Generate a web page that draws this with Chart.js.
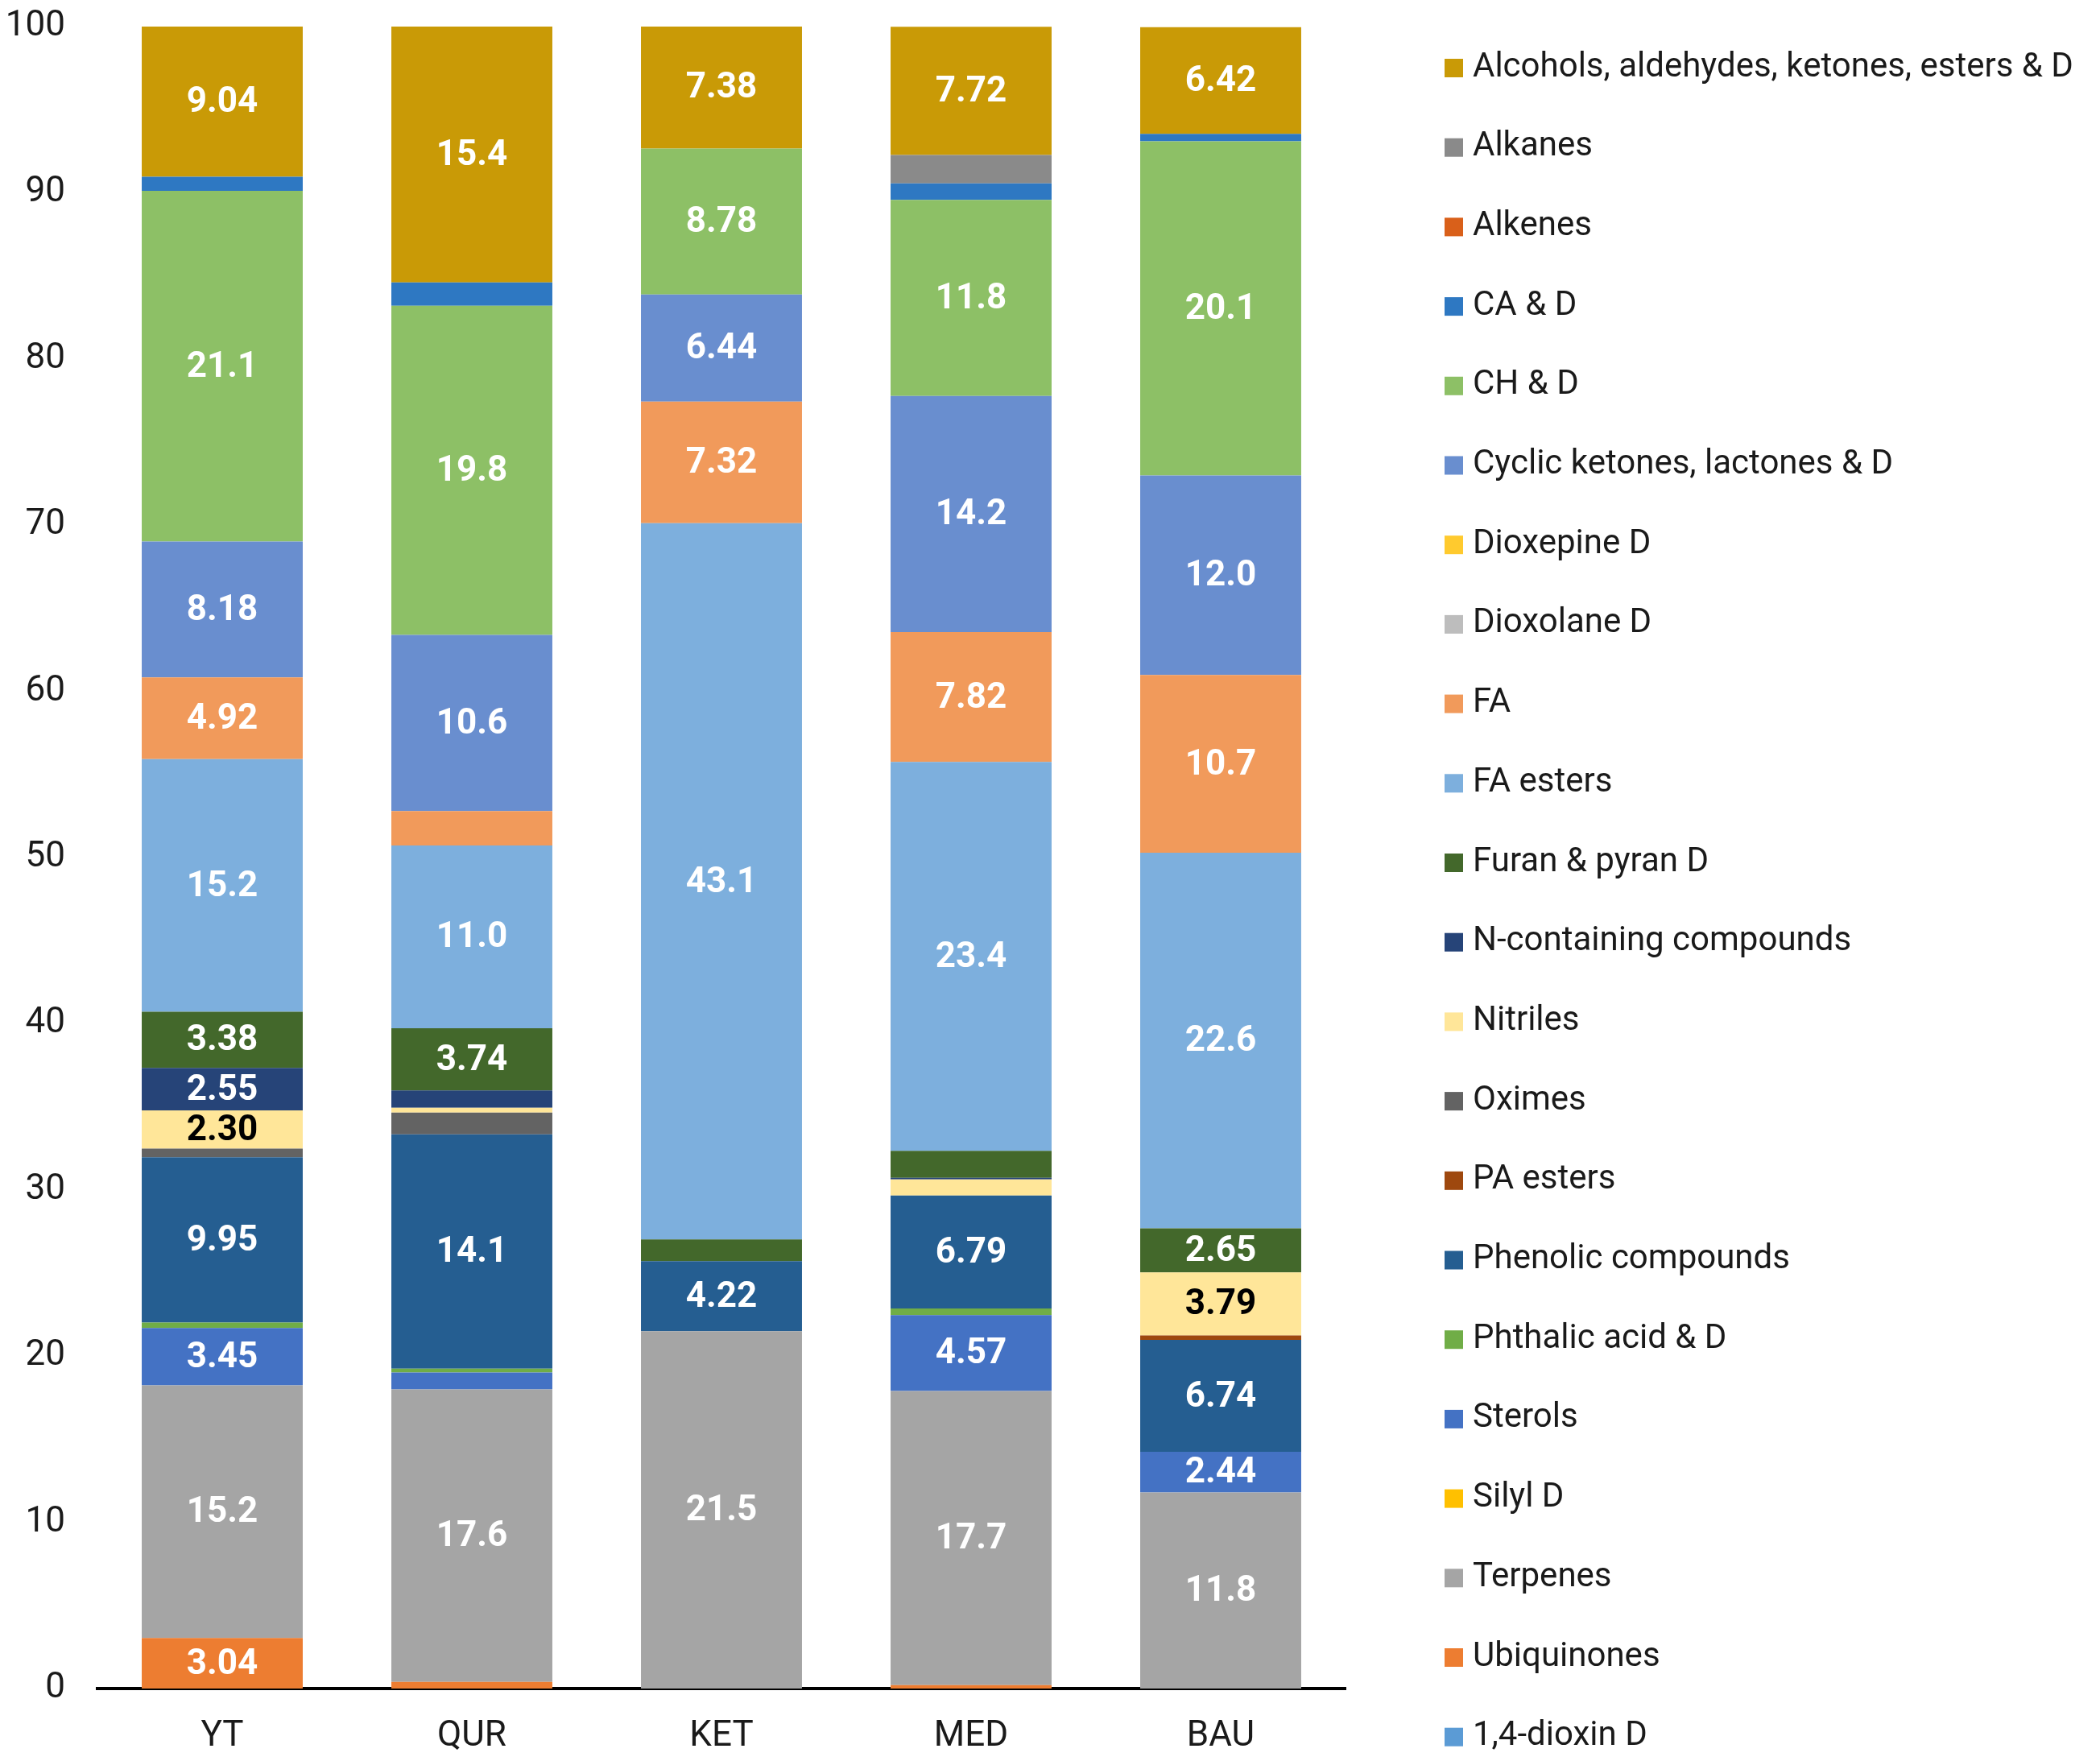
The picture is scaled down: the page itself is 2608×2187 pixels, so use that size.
<!DOCTYPE html>
<html>
<head>
<meta charset="utf-8">
<script src="https://cdn.jsdelivr.net/npm/chart.js@4.4.1/dist/chart.umd.min.js"></script>
<style>
  html, body { margin: 0; padding: 0; background: #fff; }
  #wrap { width: 2608px; height: 2187px; position: relative; }
</style>
</head>
<body>
<div id="wrap"><canvas id="myChart"></canvas></div>
<script>
// categories (x axis)
var sites = ['YT', 'QUR', 'KET', 'MED', 'BAU'];

// series values per site, listed bottom of stack first
var dioxin14     = [0, 0, 0, 0, 0];
var ubiquinones  = [3.04, 0.4, 0, 0.2, 0];
var terpenes     = [15.2, 17.6, 21.5, 17.7, 11.8];
var silyl        = [0, 0, 0, 0, 0];
var sterols      = [3.45, 1.02, 0, 4.57, 2.44];
var phthalic     = [0.33, 0.23, 0, 0.4, 0];
var phenolic     = [9.95, 14.1, 4.22, 6.79, 6.74];
var paEsters     = [0, 0, 0, 0, 0.27];
var oximes       = [0.52, 1.3, 0, 0, 0];
var nitriles     = [2.30, 0.3, 0, 0.97, 3.79];
var nContaining  = [2.55, 1.04, 0, 0.1, 0];
var furanPyran   = [3.38, 3.74, 1.3, 1.62, 2.65];
var faEsters     = [15.2, 11.0, 43.1, 23.4, 22.6];
var fa           = [4.92, 2.07, 7.32, 7.82, 10.7];
var dioxolane    = [0, 0, 0, 0, 0];
var dioxepine    = [0, 0, 0, 0, 0];
var cyclicKet    = [8.18, 10.6, 6.44, 14.2, 12.0];
var chD          = [21.1, 19.8, 8.78, 11.8, 20.1];
var caD          = [0.85, 1.4, 0, 1.0, 0.45];
var alkenes      = [0, 0, 0, 0, 0];
var alkanes      = [0, 0, 0, 1.7, 0];
var alcohols     = [9.04, 15.4, 7.38, 7.72, 6.42];

var yTicks = [0, 10, 20, 30, 40, 50, 60, 70, 80, 90, 100];

var series = [
    ['1,4-dioxin D', dioxin14, '#5B9BD5'],
    ['Ubiquinones', ubiquinones, '#ED7D31'],
    ['Terpenes', terpenes, '#A5A5A5'],
    ['Silyl D', silyl, '#FFC000'],
    ['Sterols', sterols, '#4472C4'],
    ['Phthalic acid & D', phthalic, '#70AD47'],
    ['Phenolic compounds', phenolic, '#255E91'],
    ['PA esters', paEsters, '#9E480E'],
    ['Oximes', oximes, '#636363'],
    ['Nitriles', nitriles, '#FFE699'],
    ['N-containing compounds', nContaining, '#264478'],
    ['Furan & pyran D', furanPyran, '#43682B'],
    ['FA esters', faEsters, '#7DAFDD'],
    ['FA', fa, '#F19A5B'],
    ['Dioxolane D', dioxolane, '#BDBDBD'],
    ['Dioxepine D', dioxepine, '#FFCA2E'],
    ['Cyclic ketones, lactones & D', cyclicKet, '#698ECF'],
    ['CH & D', chD, '#8DC066'],
    ['CA & D', caD, '#2E78C2'],
    ['Alkenes', alkenes, '#D9601A'],
    ['Alkanes', alkanes, '#8A8A8A'],
    ['Alcohols, aldehydes, ketones, esters & D', alcohols, '#C99A06']
];

var datasets = series.map(function(s){
    return {
        label: s[0],
        data: s[1],
        backgroundColor: s[2],
        borderWidth: 0,
        barPercentage: 0.645,
        categoryPercentage: 1.0
    };
});

// values printed inside the segments
var barLabels = {
    id: 'barLabels',
    afterDatasetsDraw: function(chart){
        var ctx = chart.ctx;
        ctx.save();
        ctx.font = 'bold 44px Roboto, sans-serif';
        ctx.textAlign = 'center';
        ctx.textBaseline = 'middle';
        chart.data.datasets.forEach(function(ds, i){
            var meta = chart.getDatasetMeta(i);
            meta.data.forEach(function(bar, j){
                var v = ds.data[j];
                if (v < 2.2) return;
                var p = bar.getProps(['x', 'y', 'base'], true);
                ctx.fillStyle = ds.label === 'Nitriles' ? '#000000' : '#FFFFFF';
                ctx.fillText(v.toPrecision(3), p.x, (p.y + p.base) / 2 + 2);
            });
        });
        ctx.restore();
    }
};

// single column legend, top entry = top of the stack
var sideLegend = {
    id: 'sideLegend',
    afterDraw: function(chart){
        var ctx = chart.ctx;
        var items = chart.data.datasets.slice().reverse();
        ctx.save();
        ctx.font = '42px Roboto, sans-serif';
        ctx.textAlign = 'left';
        ctx.textBaseline = 'middle';
        items.forEach(function(ds, k){
            var y = 83 + k * 98.7;
            ctx.fillStyle = ds.backgroundColor;
            ctx.fillRect(1794, y - 10, 23, 23);
            ctx.fillStyle = '#1a1a1a';
            ctx.fillText(ds.label, 1829, y + 1);
        });
        ctx.restore();
    }
};

var axisFont = { family: 'Roboto, sans-serif', size: 44 };

var ctx = document.getElementById('myChart');
var myChart = new Chart(ctx, {
    type: 'bar',
    plugins: [barLabels, sideLegend],
    data: { labels: sites, datasets: datasets },
    options: {
        responsive: true,
        maintainAspectRatio: false,
        devicePixelRatio: 1,
        animation: false,
        layout: { padding: { top: 33, left: 0, right: 937, bottom: 0 } },
        scales: {
            x: {
                stacked: true,
                grid: { display: false, drawTicks: false },
                border: { display: true, color: '#000000', width: 4 },
                ticks: { color: '#1a1a1a', font: axisFont, padding: 34 },
                afterFit: function(scale){ scale.height = 90; }
            },
            y: {
                stacked: true,
                min: 0,
                max: 100,
                afterBuildTicks: function(scale){
                    scale.ticks = yTicks.map(function(v){ return { value: v }; });
                },
                afterFit: function(scale){
                    scale.width = 121;
                    scale.paddingTop = 0;
                    scale.paddingBottom = 0;
                },
                grid: { display: false, drawTicks: false },
                border: { display: false },
                ticks: { color: '#1a1a1a', font: axisFont, padding: 40 }
            }
        },
        plugins: {
            tooltip: { enabled: false },
            legend: { display: false }
        }
    }
});
</script>
</body>
</html>
